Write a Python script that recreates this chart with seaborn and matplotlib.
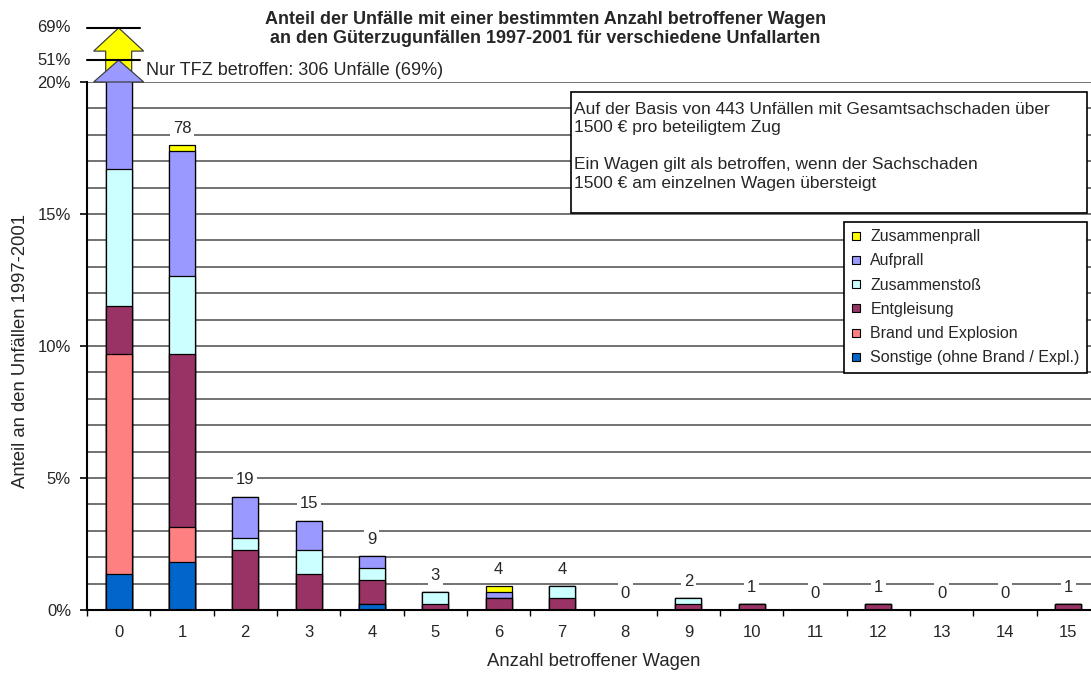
import numpy as np
import matplotlib.pyplot as plt
import seaborn as sns
from matplotlib.lines import Line2D
from matplotlib.patches import Polygon, Rectangle

sns.set_style("white")
plt.rcParams["font.family"] = ["Liberation Sans", "DejaVu Sans"]

# --- Daten: Anzahl Unfälle je Anzahl betroffener Wagen und Unfallart ---
wagen = [str(i) for i in range(16)]
sonstige = [6, 8, 0, 0, 1, 0, 0, 0, 0, 0, 0, 0, 0, 0, 0, 0]
brand = [37, 6, 0, 0, 0, 0, 0, 0, 0, 0, 0, 0, 0, 0, 0, 0]
entgleisung = [8, 29, 10, 6, 4, 1, 2, 2, 0, 1, 1, 0, 1, 0, 0, 1]
zusammenstoss = [23, 13, 2, 4, 2, 2, 0, 2, 0, 1, 0, 0, 0, 0, 0, 0]
aufprall = [152, 21, 7, 5, 2, 0, 1, 0, 0, 0, 0, 0, 0, 0, 0, 0]
zusammenprall = [80, 1, 0, 0, 0, 0, 1, 0, 0, 0, 0, 0, 0, 0, 0, 0]
gesamt_unfaelle = 443

schichten = [
    ("Sonstige (ohne Brand / Expl.)", sonstige, "#0066CC"),
    ("Brand und Explosion", brand, "#FF8080"),
    ("Entgleisung", entgleisung, "#993366"),
    ("Zusammenstoß", zusammenstoss, "#CCFFFF"),
    ("Aufprall", aufprall, "#9999FF"),
    ("Zusammenprall", zusammenprall, "#FFFF00"),
]

counts = np.array([s[1] for s in schichten], dtype=float)
kumuliert = np.cumsum(counts, axis=0) / gesamt_unfaelle * 100
summen = counts.sum(axis=0).astype(int)

BAR_W = 0.41
PX = 100 / 72  # Pixel pro Punkt

fig = plt.figure(figsize=(10.91, 6.77), dpi=100)
ax = fig.add_axes([87 / 1091, 67 / 677, 1013 / 1091, 528 / 677])

# gestapelte Balken: von oben nach unten übereinander zeichnen
for k in range(len(schichten) - 1, -1, -1):
    sns.barplot(x=wagen, y=kumuliert[k], order=wagen, color=schichten[k][2],
                saturation=1, width=BAR_W, edgecolor="black", linewidth=0.9,
                ax=ax)

ax.set_xlim(-0.5, 15.5)
ax.set_ylim(0, 20)
ax.set_yticks([0, 5, 10, 15, 20])
ax.set_yticklabels(["0%", "5%", "10%", "15%", "20%"])
ax.set_yticks(np.arange(0, 21, 1), minor=True)
ax.set_xticks(np.arange(-0.5, 16, 1), minor=True)
ax.yaxis.grid(True, which="both", color="#5a5a5a", lw=1.2)
ax.set_axisbelow(True)
ax.tick_params(axis="y", which="major", length=7 / PX, width=1.2, pad=9 / PX,
               labelsize=12, left=True, color="black")
ax.tick_params(axis="y", which="minor", length=0)
ax.tick_params(axis="x", which="major", length=0, pad=15 / PX, labelsize=12)
ax.tick_params(axis="x", which="minor", length=6 / PX, width=1, bottom=True,
               color="black")
for s in ["top", "right"]:
    ax.spines[s].set_visible(False)
for s in ["left", "bottom"]:
    ax.spines[s].set_color("black")
    ax.spines[s].set_linewidth(1.5)

ax.set_xlabel("Anzahl betroffener Wagen", fontsize=13.3)
ax.xaxis.set_label_coords(0.5, -0.098)
ax.xaxis.label.set_va("center")
ax.set_ylabel("Anteil an den Unfällen 1997-2001", fontsize=13.3)
ax.yaxis.set_label_coords(-0.066, 0.49)
ax.yaxis.label.set_va("center")

# Summen über den Balken
for i in range(1, len(wagen)):
    ax.annotate(str(summen[i]), xy=(i, kumuliert[-1][i]),
                xytext=(0, 17 / PX), textcoords="offset points",
                ha="center", va="center", fontsize=12,
                bbox=dict(facecolor="white", edgecolor="none", pad=2))

# Achsenbruch für Balken 0 (Pfeile bis 51 % und 69 %)
p51 = kumuliert[4][0]
p69 = kumuliert[5][0]
bruch = {"p51": 20.83, "p69": 22.05}
hw, hh = 0.395, BAR_W / 2
gelb = Polygon([(-hh, 20.3), (-hh, 21.17), (-hw, 21.17), (0, bruch["p69"]),
                (hw, 21.17), (hh, 21.17), (hh, 20.3)], closed=True,
               facecolor="#FFFF00", edgecolor="#404040", lw=0.9, clip_on=False,
               zorder=4)
blau = Polygon([(-hw, 20), (0, bruch["p51"]), (hw, 20)], closed=True,
               facecolor="#9999FF", edgecolor="#404040", lw=0.9, clip_on=False,
               zorder=5)
ax.add_patch(gelb)
ax.add_patch(blau)
for key, val in (("p51", p51), ("p69", p69)):
    ax.plot([-0.5, 0.34], [bruch[key]] * 2, color="black", lw=1.5,
            clip_on=False, zorder=6)
    ax.annotate(f"{val:.0f}%", xy=(0, bruch[key]),
                xycoords=ax.get_yaxis_transform(), xytext=(-16 / PX, 0),
                textcoords="offset points", ha="right", va="center",
                fontsize=12, annotation_clip=False)

ax.text(0.43, 1.021,
        f"Nur TFZ betroffen: {summen[0]} Unfälle ({p69:.0f}%)",
        transform=ax.get_xaxis_transform(), ha="left", va="center",
        fontsize=13)

# Hinweisbox
ax.add_patch(Rectangle((0.478, 0.752), 0.509, 0.229, transform=ax.transAxes,
                       facecolor="white", edgecolor="black", lw=1.2, zorder=5))
ax.text(0.481, 0.962,
        f"Auf der Basis von {gesamt_unfaelle} Unfällen mit Gesamtsachschaden über\n"
        "1500 € pro beteiligtem Zug\n\n"
        "Ein Wagen gilt als betroffen, wenn der Sachschaden\n"
        "1500 € am einzelnen Wagen übersteigt",
        transform=ax.transAxes, ha="left", va="top", fontsize=12.5,
        linespacing=1.28, zorder=6)

# Legende
handles = [Line2D([], [], marker="s", ls="", markersize=6,
                  markerfacecolor=c, markeredgecolor="black", markeredgewidth=0.8)
           for _, _, c in reversed(schichten)]
labels = [n for n, _, _ in reversed(schichten)]
leg = ax.legend(handles, labels, loc="upper right", bbox_to_anchor=(0.987, 0.735),
                fontsize=11.5, frameon=True, fancybox=False, framealpha=1,
                edgecolor="black", handlelength=0.6, handletextpad=0.6,
                labelspacing=0.58, borderpad=0.45, borderaxespad=0)
leg.get_frame().set_linewidth(1.2)
leg.set_zorder(7)

fig.text(0.5, 1 - 29 / 677,
         "Anteil der Unfälle mit einer bestimmten Anzahl betroffener Wagen\n"
         "an den Güterzugunfällen 1997-2001 für verschiedene Unfallarten",
         ha="center", va="center", fontsize=13, fontweight="bold",
         linespacing=1.2)

fig.savefig("out.png", dpi=100)
